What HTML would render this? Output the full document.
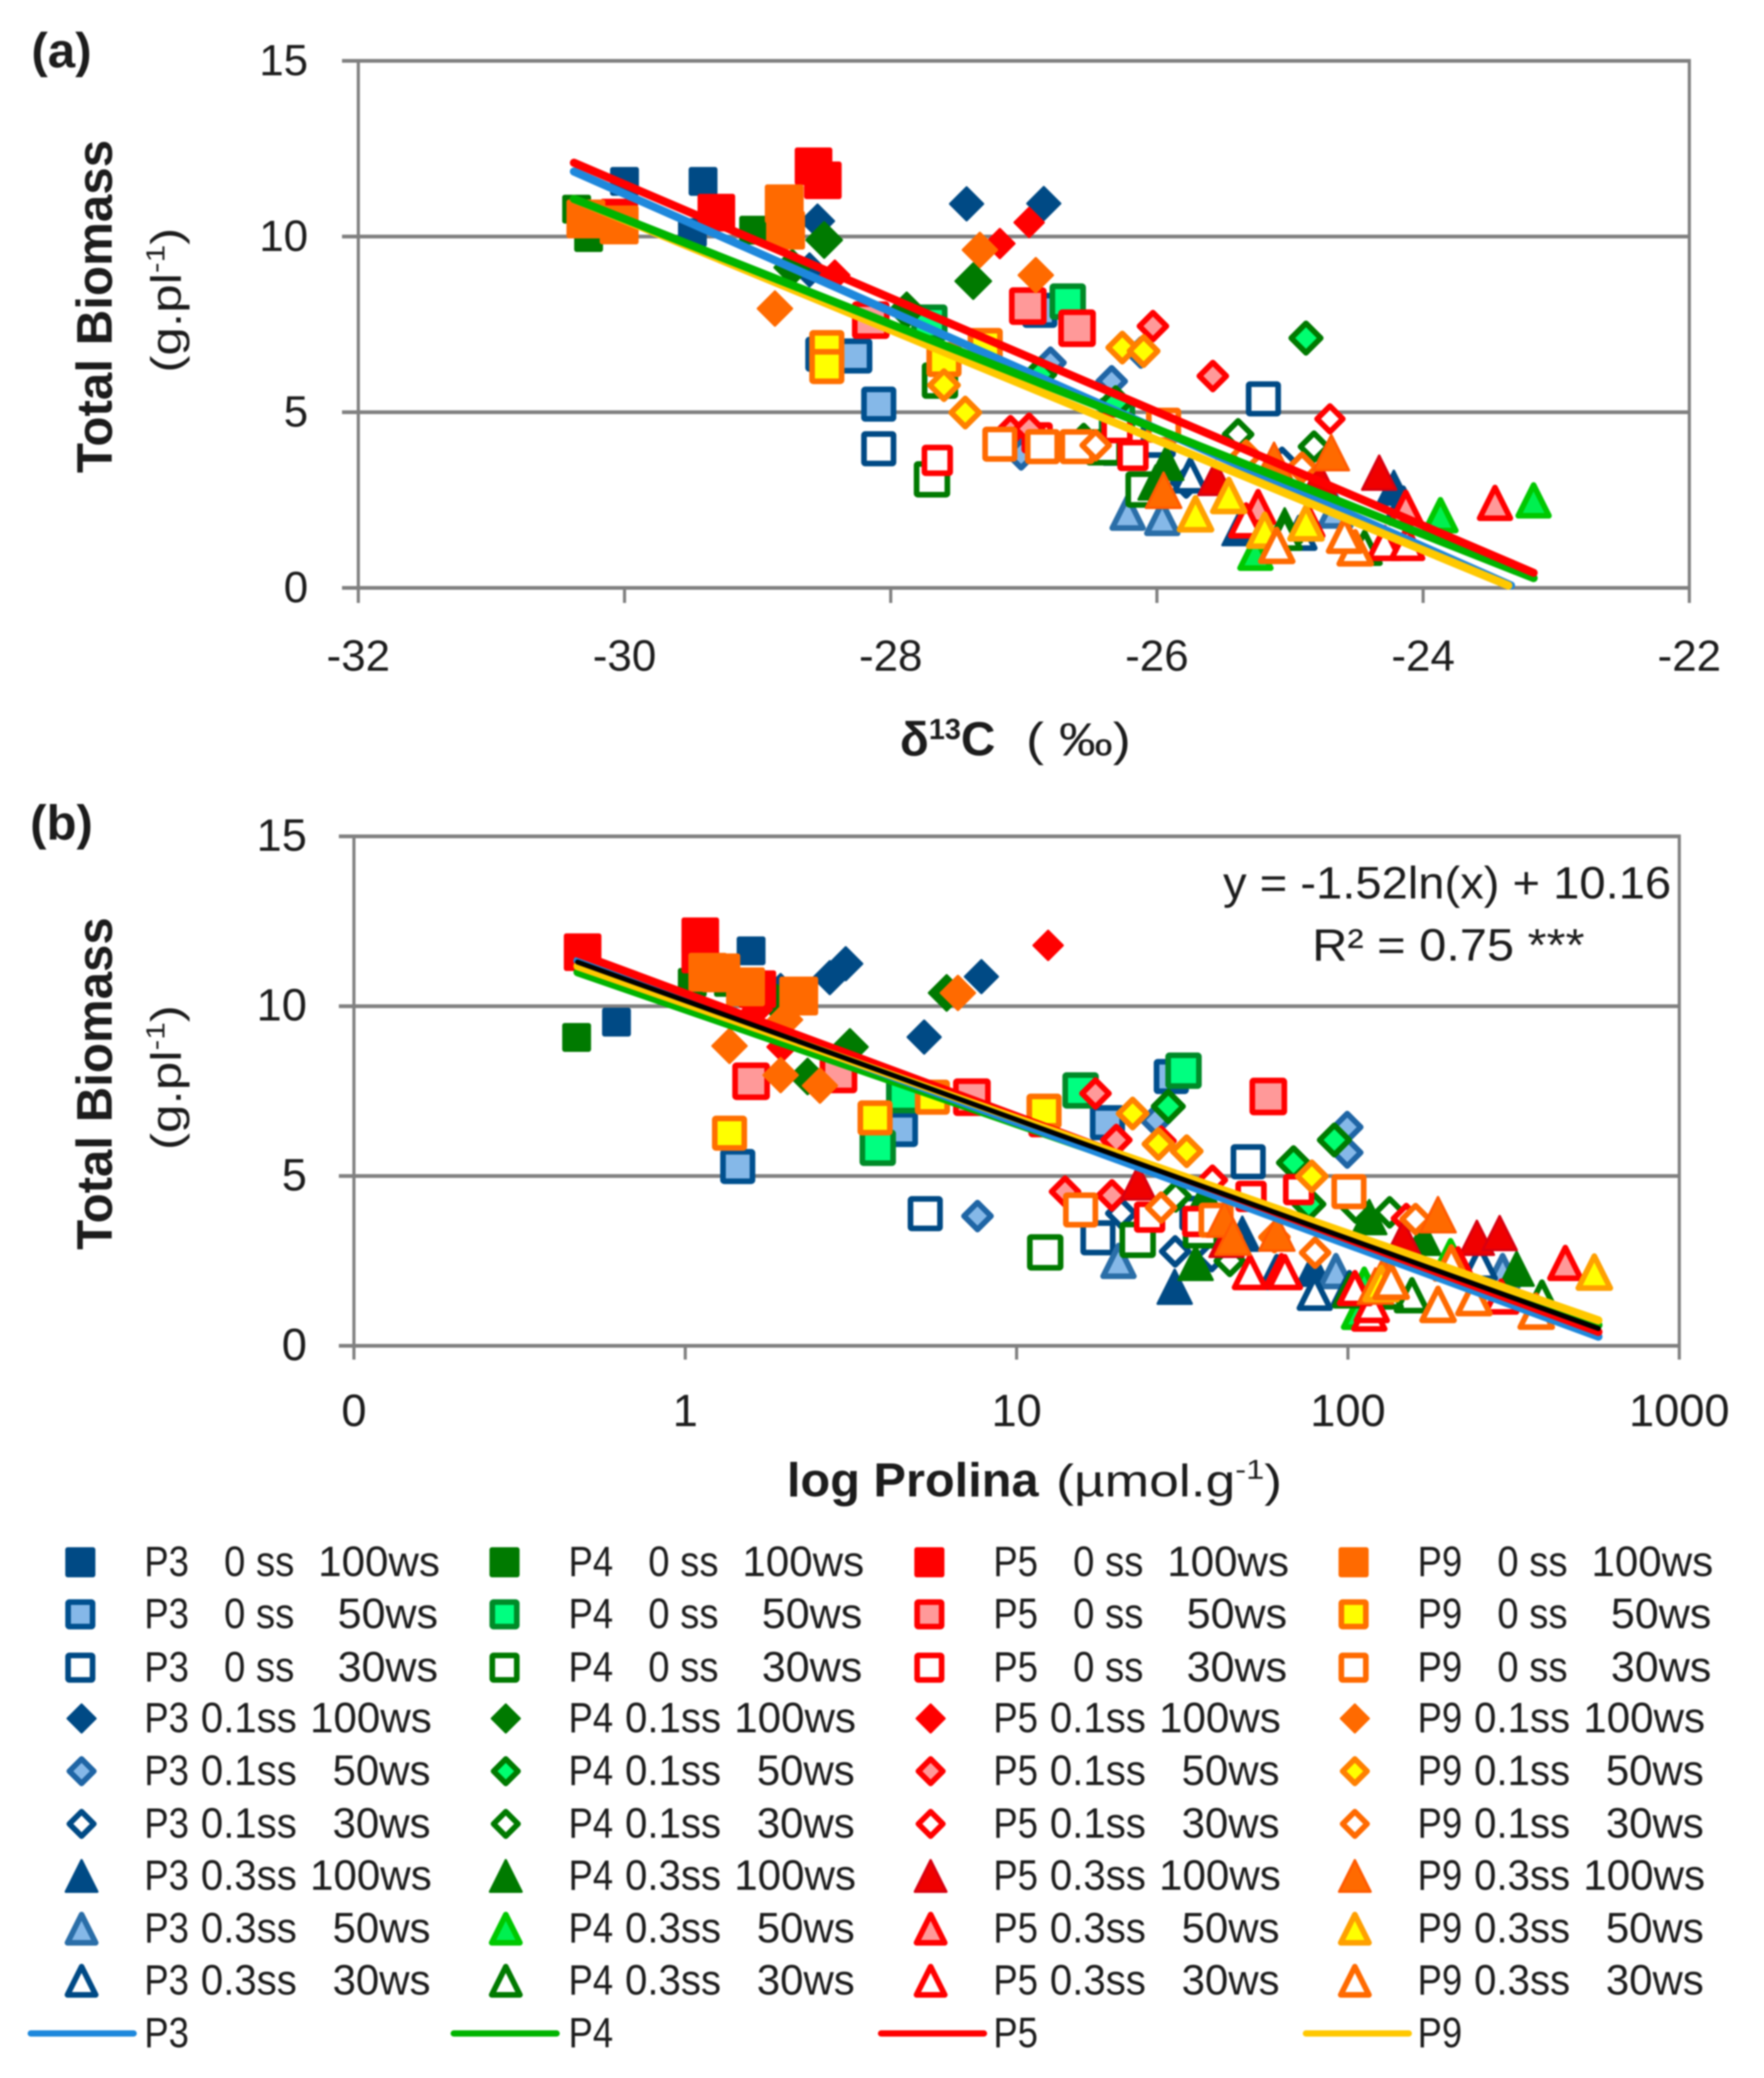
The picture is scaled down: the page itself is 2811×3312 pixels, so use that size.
<!DOCTYPE html>
<html lang="en">
<head>
<meta charset="utf-8">
<title>Total Biomass vs δ13C and log Prolina</title>
<style>
html,body{margin:0;padding:0;background:#fff;}
body{width:2811px;height:3312px;overflow:hidden;}
svg{display:block;filter:blur(1.3px);}
text{font-family:"Liberation Sans",sans-serif;fill:#1c1c1c;}
</style>
</head>
<body>
<svg id="figure" xmlns="http://www.w3.org/2000/svg" width="2811" height="3312" viewBox="0 0 2811 3312">
<rect x="0" y="0" width="2811" height="3312" fill="#ffffff"/>
<g id="chartA"></g>
<g id="chartB"></g>
<g id="legend"></g>

<text x="50" y="107" font-size="78" font-weight="700" textLength="96" lengthAdjust="spacingAndGlyphs">(a)</text>
<text x="48" y="1338" font-size="78" font-weight="700" textLength="100" lengthAdjust="spacingAndGlyphs">(b)</text>

<text transform="translate(178,754) rotate(-90)" font-size="80" font-weight="700" textLength="531" lengthAdjust="spacingAndGlyphs">Total Biomass</text>
<text transform="translate(288,594) rotate(-90)" font-size="68" textLength="231" lengthAdjust="spacingAndGlyphs">(g.pl<tspan font-size="42" dy="-26">-1</tspan><tspan dy="26">)</tspan></text>
<text x="1434" y="1204" font-size="76" font-weight="700">δ<tspan font-size="46" dy="-26">13</tspan><tspan dy="26">C</tspan></text>
<text x="1635" y="1204" font-size="74" textLength="167" lengthAdjust="spacingAndGlyphs">( ‰)</text>

<text transform="translate(178,1992) rotate(-90)" font-size="80" font-weight="700" textLength="530" lengthAdjust="spacingAndGlyphs">Total Biomass</text>
<text transform="translate(288,1833) rotate(-90)" font-size="68" textLength="231" lengthAdjust="spacingAndGlyphs">(g.pl<tspan font-size="42" dy="-26">-1</tspan><tspan dy="26">)</tspan></text>
<text x="1254" y="2385" font-size="76" font-weight="700" textLength="401" lengthAdjust="spacingAndGlyphs">log Prolina</text>
<text x="1683" y="2385" font-size="72" textLength="360" lengthAdjust="spacingAndGlyphs">(µmol.g<tspan font-size="44" dy="-28">-1</tspan><tspan dy="28">)</tspan></text>

<text x="1949" y="1432" font-size="72" textLength="714" lengthAdjust="spacingAndGlyphs">y = -1.52ln(x) + 10.16</text>
<text x="2091" y="1531" font-size="72" textLength="434" lengthAdjust="spacingAndGlyphs">R² = 0.75 ***</text>
</svg>

<script>
// ---------- category arrays ----------
const plants = ['P3', 'P4', 'P5', 'P9'];
const saltLevels = ['0 ss', '0.1ss', '0.3ss'];
const waterLevels = ['100ws', '50ws', '30ws'];

// ---------- axis tick arrays ----------
const yTicks = [0, 5, 10, 15];
const xTicksA = [-32, -30, -28, -26, -24, -22];
const xTicksB = [0.1, 1, 10, 100, 1000];
const xTickLabelsB = ['0', '1', '10', '100', '1000'];

// ---------- panel (a): [treatment index, delta13C, biomass] ----------
// treatment index: 0-2 = 0 ss (100/50/30 ws), 3-5 = 0.1 ss, 6-8 = 0.3 ss
const pointsA_P3 = [
  [0,-30,11.57],[0,-29.41,11.57],[0,-29.49,10.11],
  [1,-28.51,6.65],[1,-28.27,6.6],[1,-28.09,5.23],[1,-26.88,7.9],
  [2,-28.09,3.96],[2,-25.2,5.38],[2,-25.99,4.2],
  [3,-28.55,10.44],[3,-28.61,9.05],[3,-27.43,10.93],[3,-26.85,10.94],
  [4,-27.02,3.8],[4,-26.8,6.41],[4,-26.34,5.88],[4,-26.12,6.7],
  [5,-25.06,3.56],[5,-25.78,3.0],
  [6,-26.27,3.99],[6,-25.38,1.7],[6,-24.22,2.85],
  [7,-26.22,2.14],[7,-25.96,1.99],[7,-24.66,2.2],
  [8,-24.93,1.57],[8,-25.75,3.2],[8,-24.15,2.4]
];
const pointsA_P4 = [
  [0,-30.36,10.78],[0,-30.27,9.97],[0,-29.03,10.18],
  [1,-26.67,8.15],[1,-27.71,7.55],[1,-26.3,4.9],
  [2,-27.69,3.09],[2,-26.1,2.8],[2,-27.63,5.9],[2,-26.4,4.0],
  [3,-28.5,9.9],[3,-28.74,9.12],[3,-27.38,8.73],[3,-27.88,7.9],
  [4,-24.88,7.11],[4,-26.88,6.08],[4,-26.31,5.27],[4,-26.55,4.2],
  [5,-25.39,4.37],[5,-24.82,4.02],
  [6,-25.93,3.56],[6,-26.01,3],[6,-25.04,1.78],
  [7,-23.87,2.07],[7,-23.17,2.49],[7,-25.26,1.0],
  [8,-25.04,1.57],[8,-24.44,1.14]
];
const pointsA_P5 = [
  [0,-28.58,12.0],[0,-28.51,11.6],[0,-29.31,10.68],[0,-30.04,10.54],
  [1,-26.97,8.02],[1,-26.6,7.39],[1,-28.15,7.62],
  [2,-27.65,3.63],[2,-26.9,4.27],[2,-26.18,3.77],[2,-26.3,4.56],
  [3,-28.42,8.9],[3,-27.18,9.8],[3,-26.96,10.4],
  [4,-26.03,7.45],[4,-25.58,6.03],[4,-27.1,4.46],[4,-26.96,4.53],
  [5,-24.7,4.81],
  [6,-24.33,3.28],[6,-25.56,3.13],[6,-24.78,3.1],
  [7,-23.46,2.42],[7,-24.13,2.28],[7,-25.24,2.3],
  [8,-25.33,1.92],[8,-24.87,1.92],[8,-24.29,1.28],[8,-24.12,1.28]
];
const pointsA_P9 = [
  [0,-30.29,10.5],[0,-30.04,10.33],[0,-28.8,10.93],[0,-28.79,10.18],
  [1,-28.48,6.84],[1,-28.48,6.3],[1,-27.6,6.5],[1,-27.29,6.9],
  [2,-27.18,4.09],[2,-26.86,4.02],[2,-26.6,4.02],[2,-25.95,4.63],
  [3,-28.87,7.95],[3,-27.33,9.62],[3,-26.91,8.9],
  [4,-26.26,6.84],[4,-26.1,6.74],[4,-27.6,5.77],[4,-27.44,4.99],
  [5,-26.46,4.06],[5,-25.33,3.77],[5,-24.91,3.42],
  [6,-24.69,3.85],[6,-25.95,2.78],[6,-25.12,3.63],
  [7,-25.71,2.11],[7,-25.46,2.63],[7,-25.19,1.64],[7,-24.88,1.85],
  [8,-25.1,1.21],[8,-24.51,1.14],[8,-24.59,1.5]
];

// ---------- panel (b): [treatment index, proline, biomass] ----------
const pointsB_P3 = [
  [0,0.62,9.53],[0,1.58,11.63],
  [1,1.44,5.28],[1,4.46,6.37],[1,18.8,6.57],[1,29.3,7.93],
  [2,5.3,3.89],[2,50,5.42],[2,17.6,3.18],[2,35,3.9],
  [3,2.73,10.84],[3,3.05,11.25],[3,1.94,10.46],[3,5.26,9.09],[3,7.83,10.87],
  [4,7.62,3.82],[4,99.5,6.44],[4,99.5,5.69],[4,26.3,6.64],
  [5,20.7,3.9],[5,30.1,2.78],[5,38.8,2.64],
  [6,30,1.74],[6,78.7,2.27],[6,48,3.3],
  [7,20.3,2.5],[7,92,2.2],[7,293,2.2],
  [8,79.4,1.56],[8,61,2.17],[8,250,2.44],[8,101,1.7]
];
const pointsB_P4 = [
  [0,0.47,9.08],[0,1.05,10.7],[0,1.35,10.7],
  [1,3.81,5.83],[1,4.58,7.38],[1,15.6,7.52],[1,31.9,8.1],
  [2,12.2,2.75],[2,23.2,3.12],[2,36,3.4],
  [3,1.89,10.1],[3,3.14,8.8],[3,2.34,7.93],[3,6.15,10.39],
  [4,28.7,7.05],[4,68.5,5.39],[4,91,6.06],[4,76.2,4.17],
  [5,30.2,4.4],[5,105.7,4.07],[5,133.6,3.93],[5,44,2.5],
  [6,34.7,2.44],[6,116,3.79],[6,323,2.27],[6,169,3.18],[6,37,4.4],
  [7,204,2.64],[7,112,1.8],[7,108,1.0],
  [8,156,1.49],[8,385,1.42],[8,101.6,1.63],[8,130,1.6]
];
const pointsB_P5 = [
  [0,0.49,11.59],[0,1.11,12.06],[0,1.11,11.52],[0,1.65,10.5],
  [1,1.58,7.79],[1,2.9,7.99],[1,7.33,7.32],[1,57.5,7.34],
  [2,25.2,3.79],[2,51,4.4],[2,35.2,3.66],[2,71,4.6],[2,12.1,6.6],
  [3,1.55,10.37],[3,1.65,9.9],[3,1.96,8.8],[3,12.45,11.79],
  [4,17.3,7.43],[4,20,6.06],[4,14,4.54],[4,19.4,4.43],
  [5,27.3,6.03],[5,39,4.88],[5,150,3.75],
  [6,23.3,4.81],[6,245,3.18],[6,287,3.32],[6,43,3.12],[6,147,3.18],
  [7,453,2.44],[7,63,2.2],[7,215,2.4],
  [8,50.6,2.17],[8,64.5,2.17],[8,116,0.95],[8,118,1.2],[8,290,1.45],[8,105,1.7]
];
const pointsB_P9 = [
  [0,1.28,10.98],[0,1.17,11.0],[0,1.52,10.57],[0,2.2,10.3],
  [1,1.36,6.26],[1,3.74,6.71],[1,5.57,7.32],[1,12.1,6.91],
  [2,15.6,4.0],[2,100.7,4.54],[2,40,3.7],
  [3,1.36,8.83],[3,1.94,7.97],[3,2.55,7.66],[3,2,9.6],[3,6.65,10.39],
  [4,22.4,6.84],[4,26.8,5.94],[4,32.6,5.73],[4,77.8,4.99],
  [5,27.3,4.07],[5,79.6,2.74],[5,160,3.73],[5,60,3.2],
  [6,42.4,3.73],[6,61,3.32],[6,187,3.86],[6,121,1.76],[6,45,3.2],[6,128,2.1],
  [7,554,2.17],[7,126,1.83],
  [8,187,1.22],[8,240,1.42],[8,370,1.02],[8,205,2.44],[8,135,1.9]
];

// ---------- trendline end points ----------
const trendA_P3 = [[-30.38,11.85],[-23.34,0.07]];
const trendA_P4 = [[-30.38,11.07],[-23.17,0.28]];
const trendA_P5 = [[-30.38,12.1],[-23.17,0.43]];
const trendA_P9 = [[-30.38,11.07],[-23.36,0.07]];
const trendB_P3 = [[0.473,11.34],[570,0.27]];
const trendB_P4 = [[0.473,11.0],[570,0.61]];
const trendB_P5 = [[0.473,11.55],[570,0.41]];
const trendB_P9 = [[0.473,11.18],[570,0.75]];
const trendB_all = [[0.473,11.3],[570,0.51]];

// ---------- styles ----------
const NS = 'http://www.w3.org/2000/svg';
const lineColors = ['#1e88dc', '#00b400', '#ff0000', '#ffc800'];
const AXIS = '#808080';
const markerStroke = [
  ['#004a85','#00508f','#004a85','#004a85','#1f65a5','#004a85','#004a85','#2a6ea8','#004a85'],
  ['#007a00','#008a28','#007a00','#007a00','#007a00','#007a00','#007a00','#00c800','#007a00'],
  ['#ff0000','#ff0000','#ff0000','#ff0000','#ff0000','#ff0000','#d80010','#ff0000','#ff0000'],
  ['#ff6a00','#ff7000','#ff6a00','#ff6a00','#ff8000','#ff6a00','#ff5a00','#ffa000','#ff6a00']
];
const markerFill = [
  ['#004a85','#85b8e8','#ffffff','#004a85','#85b8e8','#ffffff','#004a85','#85b8e8','#ffffff'],
  ['#007a00','#00ff80','#ffffff','#007a00','#00ff70','#ffffff','#007a00','#00f050','#ffffff'],
  ['#ff0000','#ff9999','#ffffff','#ff0000','#ff9999','#ffffff','#f00000','#ff9999','#ffffff'],
  ['#ff6a00','#ffff00','#ffffff','#ff6a00','#ffff00','#ffffff','#ff6a00','#ffff00','#ffffff']
];
const markerSize = [
  [46,56,56, 56,52,52, 58,58,58],
  [46,58,58, 60,56,52, 58,58,58],
  [60,60,50, 50,52,50, 58,58,58],
  [62,56,56, 58,54,52, 60,60,60]
];

// ---------- axis functions ----------
const xA = v => 571 + (v + 32) * 212.1;
const yA = v => 937 - v * 56;
const xB = v => 564 + (Math.log10(v) + 1) * 528;
const yB = v => 2145 - v * 54.13;

function makeEl(tag, attrs, parent) {
  const e = document.createElementNS(NS, tag);
  for (const k in attrs) e.setAttribute(k, attrs[k]);
  parent.appendChild(e);
  return e;
}

function drawMarker(parent, plant, treatment, cx, cy, size) {
  const shape = Math.floor(treatment / 3);
  const solid = treatment % 3 === 0;
  const sw = solid ? 4 : 9;
  const common = {
    fill: markerFill[plant][treatment],
    stroke: markerStroke[plant][treatment],
    'stroke-width': sw,
    'stroke-linejoin': 'round'
  };
  let el;
  if (shape === 0) {
    const s = size - sw;
    el = makeEl('rect', Object.assign({ x: cx - s / 2, y: cy - s / 2, width: s, height: s, rx: 2 }, common), parent);
  } else if (shape === 1) {
    const h = size / 2 - sw / 2;
    el = makeEl('polygon', Object.assign({ points: [cx, cy - h, cx + h, cy, cx, cy + h, cx - h, cy].join(' ') }, common), parent);
  } else {
    const w = size / 2 - sw / 2;
    const top = cy - size / 2 + sw / 2;
    const bot = cy + size / 2 - sw / 2;
    el = makeEl('polygon', Object.assign({ points: [cx, top, cx + w, bot, cx - w, bot].join(' ') }, common), parent);
  }
  return el;
}

function drawAxes(g, cfg) {
  const { x0, x1, xTicks, xScale, yScale, tickLeft, tickBottom, xLabels, xBase, yBase, yRight, fs } = cfg;
  yTicks.forEach(t => {
    const y = yScale(t);
    const grid = makeEl('line', { x1: tickLeft, x2: x1, y1: y, y2: y, stroke: AXIS, 'stroke-width': 6 }, g);
    
    
    const label = makeEl('text', { x: yRight, y: y + yBase, 'font-size': fs, 'text-anchor': 'end' }, g);
    label.textContent = String(t);
    
    
  });
  const yTop = yScale(15);
  const yBot = yScale(0);
  const left = makeEl('line', { x1: x0, x2: x0, y1: yTop - 3, y2: tickBottom, stroke: AXIS, 'stroke-width': 5 }, g);
  
  
  const right = makeEl('line', { x1: x1, x2: x1, y1: yTop - 3, y2: tickBottom, stroke: AXIS, 'stroke-width': 5 }, g);
  
  
  xTicks.forEach((t, i) => {
    const x = xScale(t);
    const tick = makeEl('line', { x1: x, x2: x, y1: yBot, y2: tickBottom, stroke: AXIS, 'stroke-width': 5 }, g);
    
    
    const label = makeEl('text', { x: x, y: xBase, 'font-size': fs, 'text-anchor': 'middle' }, g);
    label.textContent = xLabels[i];
    
    
  });
}

function drawPoints(g, rows, plant, xScale, yScale) {
  rows.forEach(r => {
    const m = drawMarker(g, plant, r[0], xScale(r[1]), yScale(r[2]), markerSize[plant][r[0]]);
    
    
  });
}

function drawTrend(g, pts, color, width, name, xScale, yScale) {
  const l = makeEl('line', {
    x1: xScale(pts[0][0]), y1: yScale(pts[0][1]),
    x2: xScale(pts[1][0]), y2: yScale(pts[1][1]),
    stroke: color, 'stroke-width': width, 'stroke-linecap': 'round'
  }, g);
  
  
}

// ---------- panel (a) ----------
const gA = document.getElementById('chartA');
drawAxes(gA, {
  x0: xA(-32), x1: xA(-22), xTicks: xTicksA, xScale: xA, yScale: yA,
  tickLeft: 545, tickBottom: 961, xLabels: xTicksA.map(String),
  xBase: 1069, yBase: 23, yRight: 491, fs: 70
});
[pointsA_P3, pointsA_P4, pointsA_P5, pointsA_P9].forEach((rows, p) => {
  drawPoints(gA, rows.slice().sort((a, b) => a[0] - b[0]), p, xA, yA);
});
drawTrend(gA, trendA_P3, lineColors[0], 13, 'trendline-a-p3', xA, yA);
drawTrend(gA, trendA_P9, lineColors[3], 13, 'trendline-a-p9', xA, yA);
drawTrend(gA, trendA_P4, lineColors[1], 13, 'trendline-a-p4', xA, yA);
drawTrend(gA, trendA_P5, lineColors[2], 13, 'trendline-a-p5', xA, yA);

// ---------- panel (b) ----------
const gB = document.getElementById('chartB');
drawAxes(gB, {
  x0: xB(0.1), x1: xB(1000), xTicks: xTicksB, xScale: xB, yScale: yB,
  tickLeft: 540, tickBottom: 2167, xLabels: xTickLabelsB,
  xBase: 2273, yBase: 23, yRight: 489, fs: 72
});
[pointsB_P3, pointsB_P4, pointsB_P5, pointsB_P9].forEach((rows, p) => {
  drawPoints(gB, rows.slice().sort((a, b) => a[0] - b[0]), p, xB, yB);
});
drawTrend(gB, trendB_P4, lineColors[1], 13, 'trendline-b-p4', xB, yB);
drawTrend(gB, trendB_P3, lineColors[0], 13, 'trendline-b-p3', xB, yB);
drawTrend(gB, trendB_P5, lineColors[2], 13, 'trendline-b-p5', xB, yB);
drawTrend(gB, trendB_P9, lineColors[3], 13, 'trendline-b-p9', xB, yB);
drawTrend(gB, trendB_all, '#000000', 8, 'trendline-b-overall', xB, yB);

// ---------- legend ----------
const legendG = document.getElementById('legend');
const legendRowY = [2490, 2573, 2658, 2739, 2823, 2907, 2990, 3074, 3157, 3241];
const legendColOffset = [0, 676, 1353, 2029];
const legendLineStart = [45, 719, 1400, 2077];

function legendText(parent, x, y, text, len) {
  const t = makeEl('text', { x: x, y: y, 'font-size': 68, textLength: len, lengthAdjust: 'spacingAndGlyphs' }, parent);
  t.textContent = text;
  
  
}

plants.forEach((plant, p) => {
  const dx = legendColOffset[p];
  for (let s = 0; s < 3; s++) {
    for (let w = 0; w < 3; w++) {
      const treatment = s * 3 + w;
      const y = legendRowY[treatment];
      const entry = makeEl('g', {}, legendG);
      
      
      const cx = dx + (s === 0 ? 128 : 130);
      const m = drawMarker(entry, p, treatment, cx, y, s === 2 ? 54 : 48);
      
      
      const base = y + 22;
      legendText(entry, dx + 230, base, plant, 71);
      if (s === 0) {
        legendText(entry, dx + 357, base, saltLevels[s], 112);
        if (w === 0) legendText(entry, dx + 507, base, waterLevels[w], 194);
        else legendText(entry, dx + 538, base, waterLevels[w], 160);
      } else {
        legendText(entry, dx + 320, base, saltLevels[s], 153);
        if (w === 0) legendText(entry, dx + 494, base, waterLevels[w], 194);
        else legendText(entry, dx + 530, base, waterLevels[w], 156);
      }
    }
  }
  const lineEntry = makeEl('g', {}, legendG);
  
  
  const ln = makeEl('line', {
    x1: legendLineStart[p] + 4, x2: legendLineStart[p] + 168,
    y1: legendRowY[9], y2: legendRowY[9],
    stroke: lineColors[p], 'stroke-width': 10, 'stroke-linecap': 'round'
  }, lineEntry);
  
  
  legendText(lineEntry, dx + 230, legendRowY[9] + 22, plant, 71);
});
</script>
</body>
</html>
